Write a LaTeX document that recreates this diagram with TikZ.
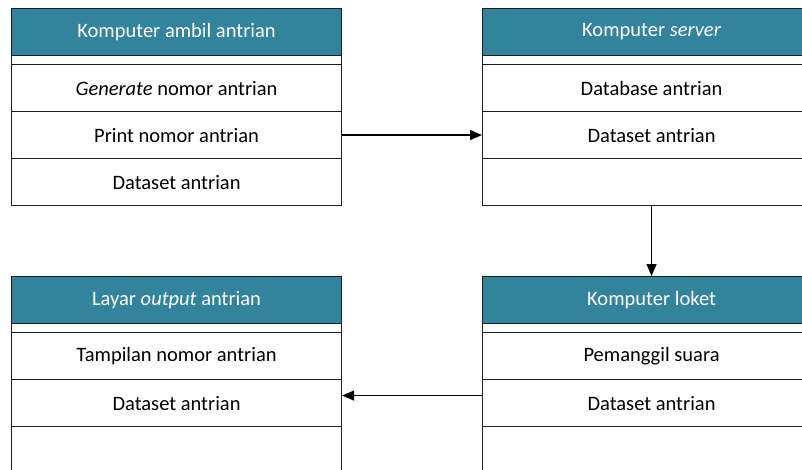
\documentclass[tikz,border=0pt]{standalone}
\usepackage{fontspec}
\setmainfont{Carlito}
\usetikzlibrary{arrows.meta}
\definecolor{headteal}{RGB}{49,132,155}
\definecolor{edgegray}{RGB}{30,30,30}
\begin{document}
\begin{tikzpicture}[x=1pt,y=-1pt,
  cell/.style={draw=edgegray, line width=1.1pt, minimum width=#1, minimum height=47pt,
    inner sep=0pt, anchor=north west, font=\fontsize{20.5}{24}\selectfont},
  headcell/.style={cell=#1, fill=headteal, text=white},
  stripcell/.style={cell=#1, minimum height=9pt},
  conn/.style={line width=1.3pt, -{Triangle[length=12pt,width=10pt]}}]
\useasboundingbox (0,0) rectangle (802,470);
\clip (0,0) rectangle (802,470);

% queue ticket computer
\node[headcell=330pt] (ambH) at (11,8) {Komputer ambil antrian};
\node[stripcell=330pt] (ambS) at (11,55) {};
\node[cell=330pt] (amb1) at (11,64) {\textit{Generate} nomor antrian};
\node[cell=330pt] (amb2) at (11,111) {Print nomor antrian};
\node[cell=330pt] (amb3) at (11,158) {Dataset antrian};

% server computer
\node[headcell=338pt] (srvH) at (482,8) {Komputer \textit{server}};
\node[stripcell=338pt] (srvS) at (482,55) {};
\node[cell=338pt] (srv1) at (482,64) {Database antrian};
\node[cell=338pt] (srv2) at (482,111) {Dataset antrian};
\node[cell=338pt] (srv3) at (482,158) {};

% output display
\node[headcell=330pt] (layH) at (11,276) {Layar \textit{output} antrian};
\node[stripcell=330pt] (layS) at (11,323) {};
\node[cell=330pt] (lay1) at (11,332) {Tampilan nomor antrian};
\node[cell=330pt] (lay2) at (11,379) {Dataset antrian};
\node[cell=330pt] (lay3) at (11,426) {};

% counter computer
\node[headcell=338pt] (lokH) at (482,276) {Komputer loket};
\node[stripcell=338pt] (lokS) at (482,323) {};
\node[cell=338pt] (lok1) at (482,332) {Pemanggil suara};
\node[cell=338pt] (lok2) at (482,379) {Dataset antrian};
\node[cell=338pt] (lok3) at (482,426) {};

% data flow
\draw[conn] (amb2.east) -- (srv2.west);
\draw[conn] (srv3.south) -- (lokH.north);
\draw[conn] ([yshift=7.5pt]lok2.west) -- ([yshift=7.5pt]lay2.east);
\end{tikzpicture}
\end{document}
